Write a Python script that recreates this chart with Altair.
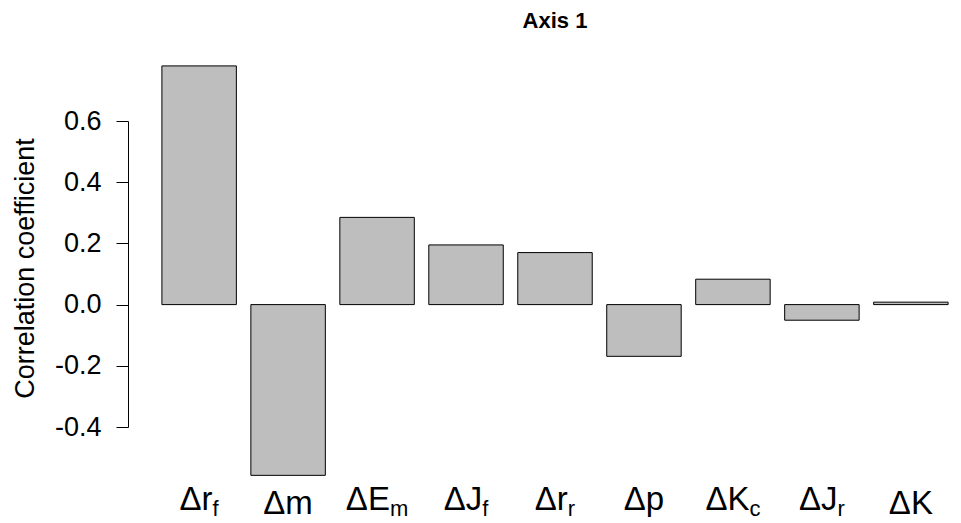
import altair as alt
import pandas as pd

# ---- data ----
keys = ["rf", "m", "Em", "Jf", "rr", "p", "Kc", "Jr", "K"]
bases = ["Δr", "Δm", "ΔE", "ΔJ", "Δr", "Δp", "ΔK", "ΔJ", "ΔK"]
subs = ["f", "", "m", "f", "r", "", "c", "r", ""]
values = [0.780, -0.558, 0.285, 0.195, 0.170, -0.169, 0.083, -0.051, 0.008]
y_ticks = [-0.4, -0.2, 0.0, 0.2, 0.4, 0.6]

FONT = "Liberation Sans"
MAIN_SIZE = 33
SUB_SIZE = 22

PLOT_W, PLOT_H = 804, 306
PAD_IN, PAD_OUT = 0.163, 0.1
step = PLOT_W / (len(keys) - PAD_IN + 2 * PAD_OUT)
half_band = step * (1 - PAD_IN) / 2.0

# approximate Arial advance widths (em) for centring the composite labels
adv = {"Δ": 0.668, "r": 0.333, "m": 0.833, "E": 0.667, "J": 0.5,
       "p": 0.556, "K": 0.667, "f": 0.278, "c": 0.5}


def width(s, size):
    return sum(adv.get(ch, 0.55) for ch in s) * size


rows = []
for k, b, s, v in zip(keys, bases, subs, values):
    wm = width(b, MAIN_SIZE)
    ws = width(s, SUB_SIZE)
    tail = (s != "") or any(ch in "gjpqy" for ch in b)
    rows.append({"key": k, "base": b, "sub": s, "value": v,
                 "split": half_band + (wm - ws) / 2.0, "tail": tail})
df = pd.DataFrame(rows)

xscale = alt.Scale(domain=keys, paddingInner=PAD_IN, paddingOuter=PAD_OUT)
x_enc = alt.X("key:N", sort=keys, scale=xscale, axis=None)

bars = alt.Chart(df).mark_bar(
    color="#bebebe", stroke="black", strokeWidth=1
).encode(
    x=x_enc,
    y=alt.Y(
        "value:Q",
        scale=alt.Scale(domain=[min(y_ticks), max(y_ticks)], nice=False, zero=False),
        axis=alt.Axis(
            values=y_ticks,
            labelExpr="datum.value < 0 ? '-' + format(abs(datum.value), '.1f') : format(datum.value, '.1f')",
            grid=False, tickSize=12, labelPadding=15, offset=25,
            domainColor="black", tickColor="black", labelColor="black",
            labelFont=FONT, labelFontSize=27,
            title="Correlation coefficient", titleFont=FONT, titleFontSize=27,
            titleFontWeight="normal", titleColor="black",
            titleX=-95, titleY=147, titleBaseline="alphabetic", titleAngle=270,
        ),
    ),
    y2=alt.datum(0),
)

main_tail = alt.Chart(df).transform_filter("datum.tail").mark_text(
    align="right", baseline="alphabetic", font=FONT, fontSize=MAIN_SIZE, color="black"
).encode(x=x_enc, xOffset=alt.XOffset("split:Q", scale=None), y=alt.value(389), text="base:N")

main_low = alt.Chart(df).transform_filter("!datum.tail").mark_text(
    align="right", baseline="alphabetic", font=FONT, fontSize=MAIN_SIZE, color="black"
).encode(x=x_enc, xOffset=alt.XOffset("split:Q", scale=None), y=alt.value(393), text="base:N")

sub_text = alt.Chart(df).transform_filter("datum.sub != ''").mark_text(
    align="left", baseline="alphabetic", font=FONT, fontSize=SUB_SIZE, color="black"
).encode(x=x_enc, xOffset=alt.XOffset("split:Q", scale=None), y=alt.value(395), text="sub:N")

chart = alt.layer(bars, main_tail, main_low, sub_text).properties(
    width=PLOT_W, height=PLOT_H,
    title=alt.TitleParams(text="Axis 1", font=FONT, fontSize=22, fontWeight="bold",
                          color="black", anchor="middle", frame="group",
                          baseline="alphabetic", offset=15),
    padding={"left": 153, "top": 121, "right": 4, "bottom": 96},
    autosize=alt.AutoSizeParams(type="none"),
    background="white",
).configure_view(stroke=None)

chart.save("out.html", embed_options={"renderer": "svg", "actions": False})
